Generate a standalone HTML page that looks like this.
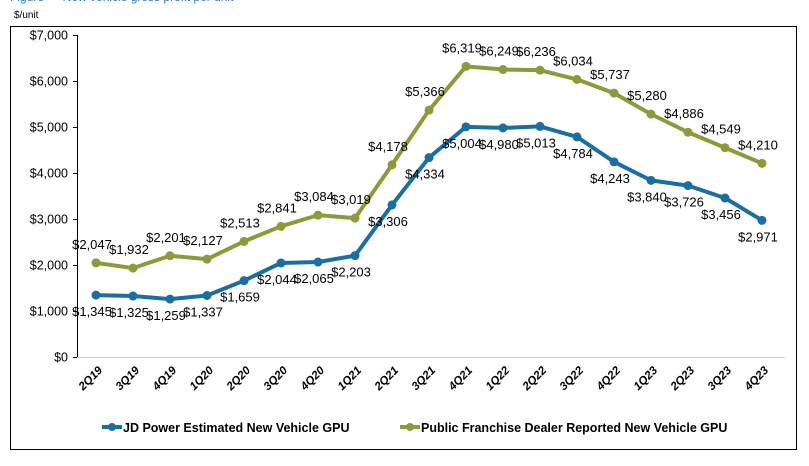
<!DOCTYPE html>
<html><head><meta charset="utf-8"><style>
body{margin:0;background:#fff;width:809px;height:461px;overflow:hidden;font-family:"Liberation Sans",sans-serif}
svg text{font-family:"Liberation Sans",sans-serif}
</style></head><body>
<svg id="chart" width="809" height="461">
<text x="10" y="1" font-size="12" fill="#2e75b6">Figure — New vehicle gross profit per unit</text>
<text x="14" y="18" font-size="10" fill="#000">$/unit</text>
<rect x="10.5" y="26.5" width="786" height="423" fill="none" stroke="#000" stroke-width="1"/>
<g id="axes"></g><g id="series"></g>
<g>
<line x1="102" y1="427" x2="122" y2="427" stroke="#1a6ea0" stroke-width="4"/>
<circle cx="112" cy="427" r="4" fill="#1a6ea0"/>
<text x="123" y="432" font-size="12.5" font-weight="bold" fill="#000">JD Power Estimated New Vehicle GPU</text>
<line x1="400" y1="427" x2="420" y2="427" stroke="#8c9a3c" stroke-width="4"/>
<circle cx="410" cy="427" r="4" fill="#8c9a3c"/>
<text x="421" y="432" font-size="12.5" font-weight="bold" fill="#000">Public Franchise Dealer Reported New Vehicle GPU</text>
</g>
</svg>
<script>
const categories=["2Q19","3Q19","4Q19","1Q20","2Q20","3Q20","4Q20","1Q21","2Q21","3Q21","4Q21","1Q22","2Q22","3Q22","4Q22","1Q23","2Q23","3Q23","4Q23"];
const jdPower=[1345,1325,1259,1337,1659,2044,2065,2203,3306,4334,5004,4980,5013,4784,4243,3840,3726,3456,2971];
const publicDealer=[2047,1932,2201,2127,2513,2841,3084,3019,4178,5366,6319,6249,6236,6034,5737,5280,4886,4549,4210];
const yTicks=[0,1000,2000,3000,4000,5000,6000,7000];
const NS="http://www.w3.org/2000/svg";
const x0=96,step=37,yBase=357,yScale=46/1000;
const X=i=>x0+i*step, Y=v=>yBase-v*yScale;
const fmt=v=>"$"+v.toLocaleString("en-US");
function mk(tag,attrs,parent){const e=document.createElementNS(NS,tag);for(const k in attrs)e.setAttribute(k,attrs[k]);parent.appendChild(e);return e;}
const axes=document.getElementById("axes");
const ya=mk("line",{x1:77.5,y1:Y(7000),x2:77.5,y2:yBase,stroke:"#000"},axes);


const xa=mk("line",{x1:77,y1:yBase+0.5,x2:785,y2:yBase+0.5,stroke:"#d0d0d0"},axes);


yTicks.forEach(v=>{
  mk("line",{x1:73,y1:Y(v)+0.5,x2:77,y2:Y(v)+0.5,stroke:"#000"},axes);
  const t=mk("text",{x:68,y:Y(v)+4.5,"font-size":12.5,"text-anchor":"end",fill:"#000"},axes);
  t.textContent=fmt(v);
  
  
});
categories.forEach((c,i)=>{
  const t=mk("text",{x:X(i)+7,y:yBase+14,"font-size":11.5,"font-weight":"bold","font-style":"italic","text-anchor":"end",transform:`rotate(-45 ${X(i)+7} ${yBase+14})`,fill:"#000"},axes);
  t.textContent=c;
  
  
});
const sg=document.getElementById("series");
function drawSeries(vals,color,name,dy){
  const g=mk("g",{},sg);
  
  
  const pl=mk("polyline",{points:vals.map((v,i)=>X(i)+","+Y(v)).join(" "),fill:"none",stroke:color,"stroke-width":4,"stroke-linejoin":"round"},g);
  
  
  vals.forEach((v,i)=>{
    const c=mk("circle",{cx:X(i),cy:Y(v),r:4.5,fill:color},g);
    
    
    const t=mk("text",{x:X(i)-4,y:Y(v)+dy,"font-size":13,"text-anchor":"middle",fill:"#000"},g);
    t.textContent=fmt(v);
    
    
  });
}
drawSeries(publicDealer,"#8c9a3c","public-dealer-series",-14);
drawSeries(jdPower,"#1a6ea0","jd-power-series",21);
</script>
</body></html>
